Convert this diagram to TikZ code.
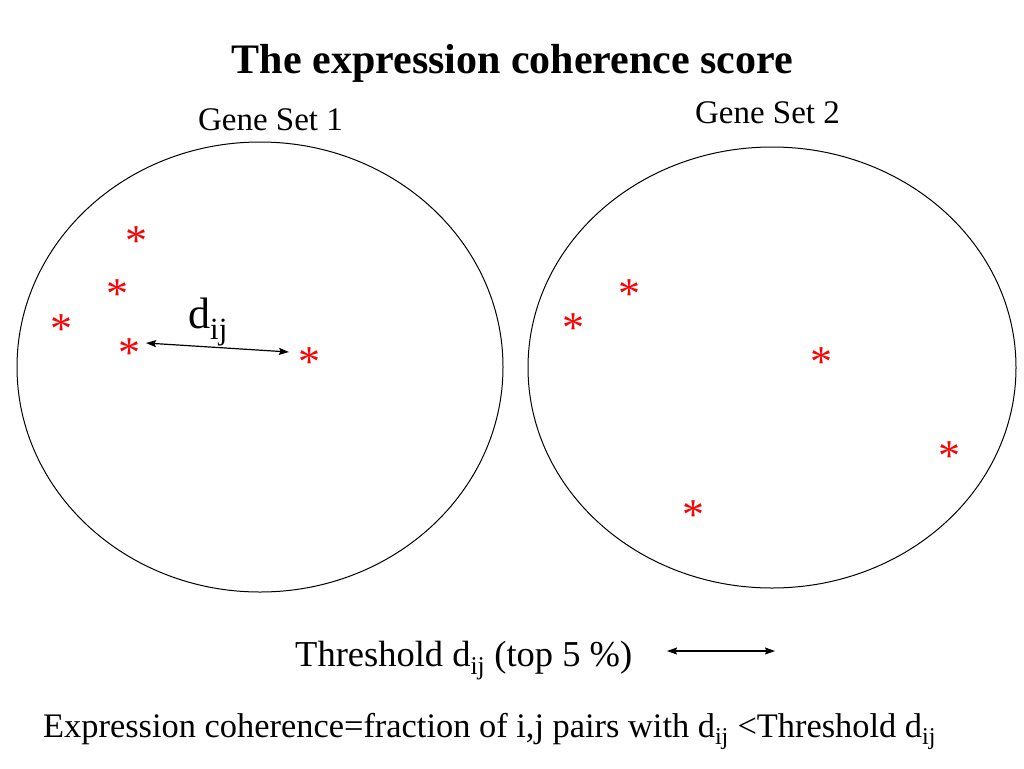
\documentclass[tikz,border=0pt]{standalone}
\usepackage{fontspec}
\setmainfont{Liberation Serif}
\usetikzlibrary{arrows.meta,shapes.geometric}
\tikzset{
  gset/.style={ellipse,draw=black,line width=1pt,inner sep=0pt},
  redstar/.style={text=red,inner sep=0pt,font=\fontsize{44}{50}\selectfont},
  lbl/.style={inner sep=0pt,text=black},
  dist/.style={line width=1.2pt,{Stealth[length=10pt,width=7pt,inset=1.5pt]}-{Stealth[length=10pt,width=7pt,inset=1.5pt]}}
}
\newcommand{\mystar}{\raisebox{-0.44em}[0.18em][0.18em]{*}}
\begin{document}
\begin{tikzpicture}[x=1pt,y=-1pt]
\useasboundingbox (0,0) rectangle (1024,768);
\fill[white] (0,0) rectangle (1024,768);
% title and labels
\node[lbl,anchor=base,font=\fontsize{42}{50}\selectfont\bfseries] (title) at (512.5,73) {The expression coherence score};
\node[lbl,anchor=base,font=\fontsize{33}{40}\selectfont] (gs1) at (270.5,130) {Gene Set 1};
\node[lbl,anchor=base,font=\fontsize{33}{40}\selectfont] (gs2) at (767.5,123) {Gene Set 2};
% gene sets
\node[gset,minimum width=486pt,minimum height=450pt] (set1) at (260,367) {};
\node[gset,minimum width=488pt,minimum height=441pt] (set2) at (772,367.5) {};
% stars set 1
\node[redstar] (s1) at (136,236) {\mystar};
\node[redstar] (s2) at (117,289) {\mystar};
\node[redstar] (s3) at (61,324) {\mystar};
\node[redstar] (s4) at (129,348) {\mystar};
\node[redstar] (s5) at (309,357) {\mystar};
% stars set 2
\node[redstar] (t1) at (629,289) {\mystar};
\node[redstar] (t2) at (573,323) {\mystar};
\node[redstar] (t3) at (821,357) {\mystar};
\node[redstar] (t4) at (949,451) {\mystar};
\node[redstar] (t5) at (693,510) {\mystar};
% distance
\draw[dist] ([xshift=17pt,yshift=5pt]s4.center) -- ([xshift=-20pt,yshift=5pt]s5.center);
\node[lbl,anchor=base west,font=\fontsize{44}{52}\selectfont] (dij) at (188,328) {d\textsubscript{ij}};
% threshold
\node[lbl,anchor=base west,font=\fontsize{36.5}{44}\selectfont] (thr) at (295,666) {Threshold d\textsubscript{ij} (top 5 \%)};
\coordinate (ta1) at (667,651);
\coordinate (ta2) at (775,651);
\draw[dist] (ta1) -- (ta2);
% bottom line
\node[lbl,anchor=base west,font=\fontsize{34.4}{41}\selectfont] (expr) at (43,737) {Expression coherence=fraction of i,j pairs with d\textsubscript{ij} {<}Threshold d\textsubscript{ij}};
\end{tikzpicture}
\end{document}
